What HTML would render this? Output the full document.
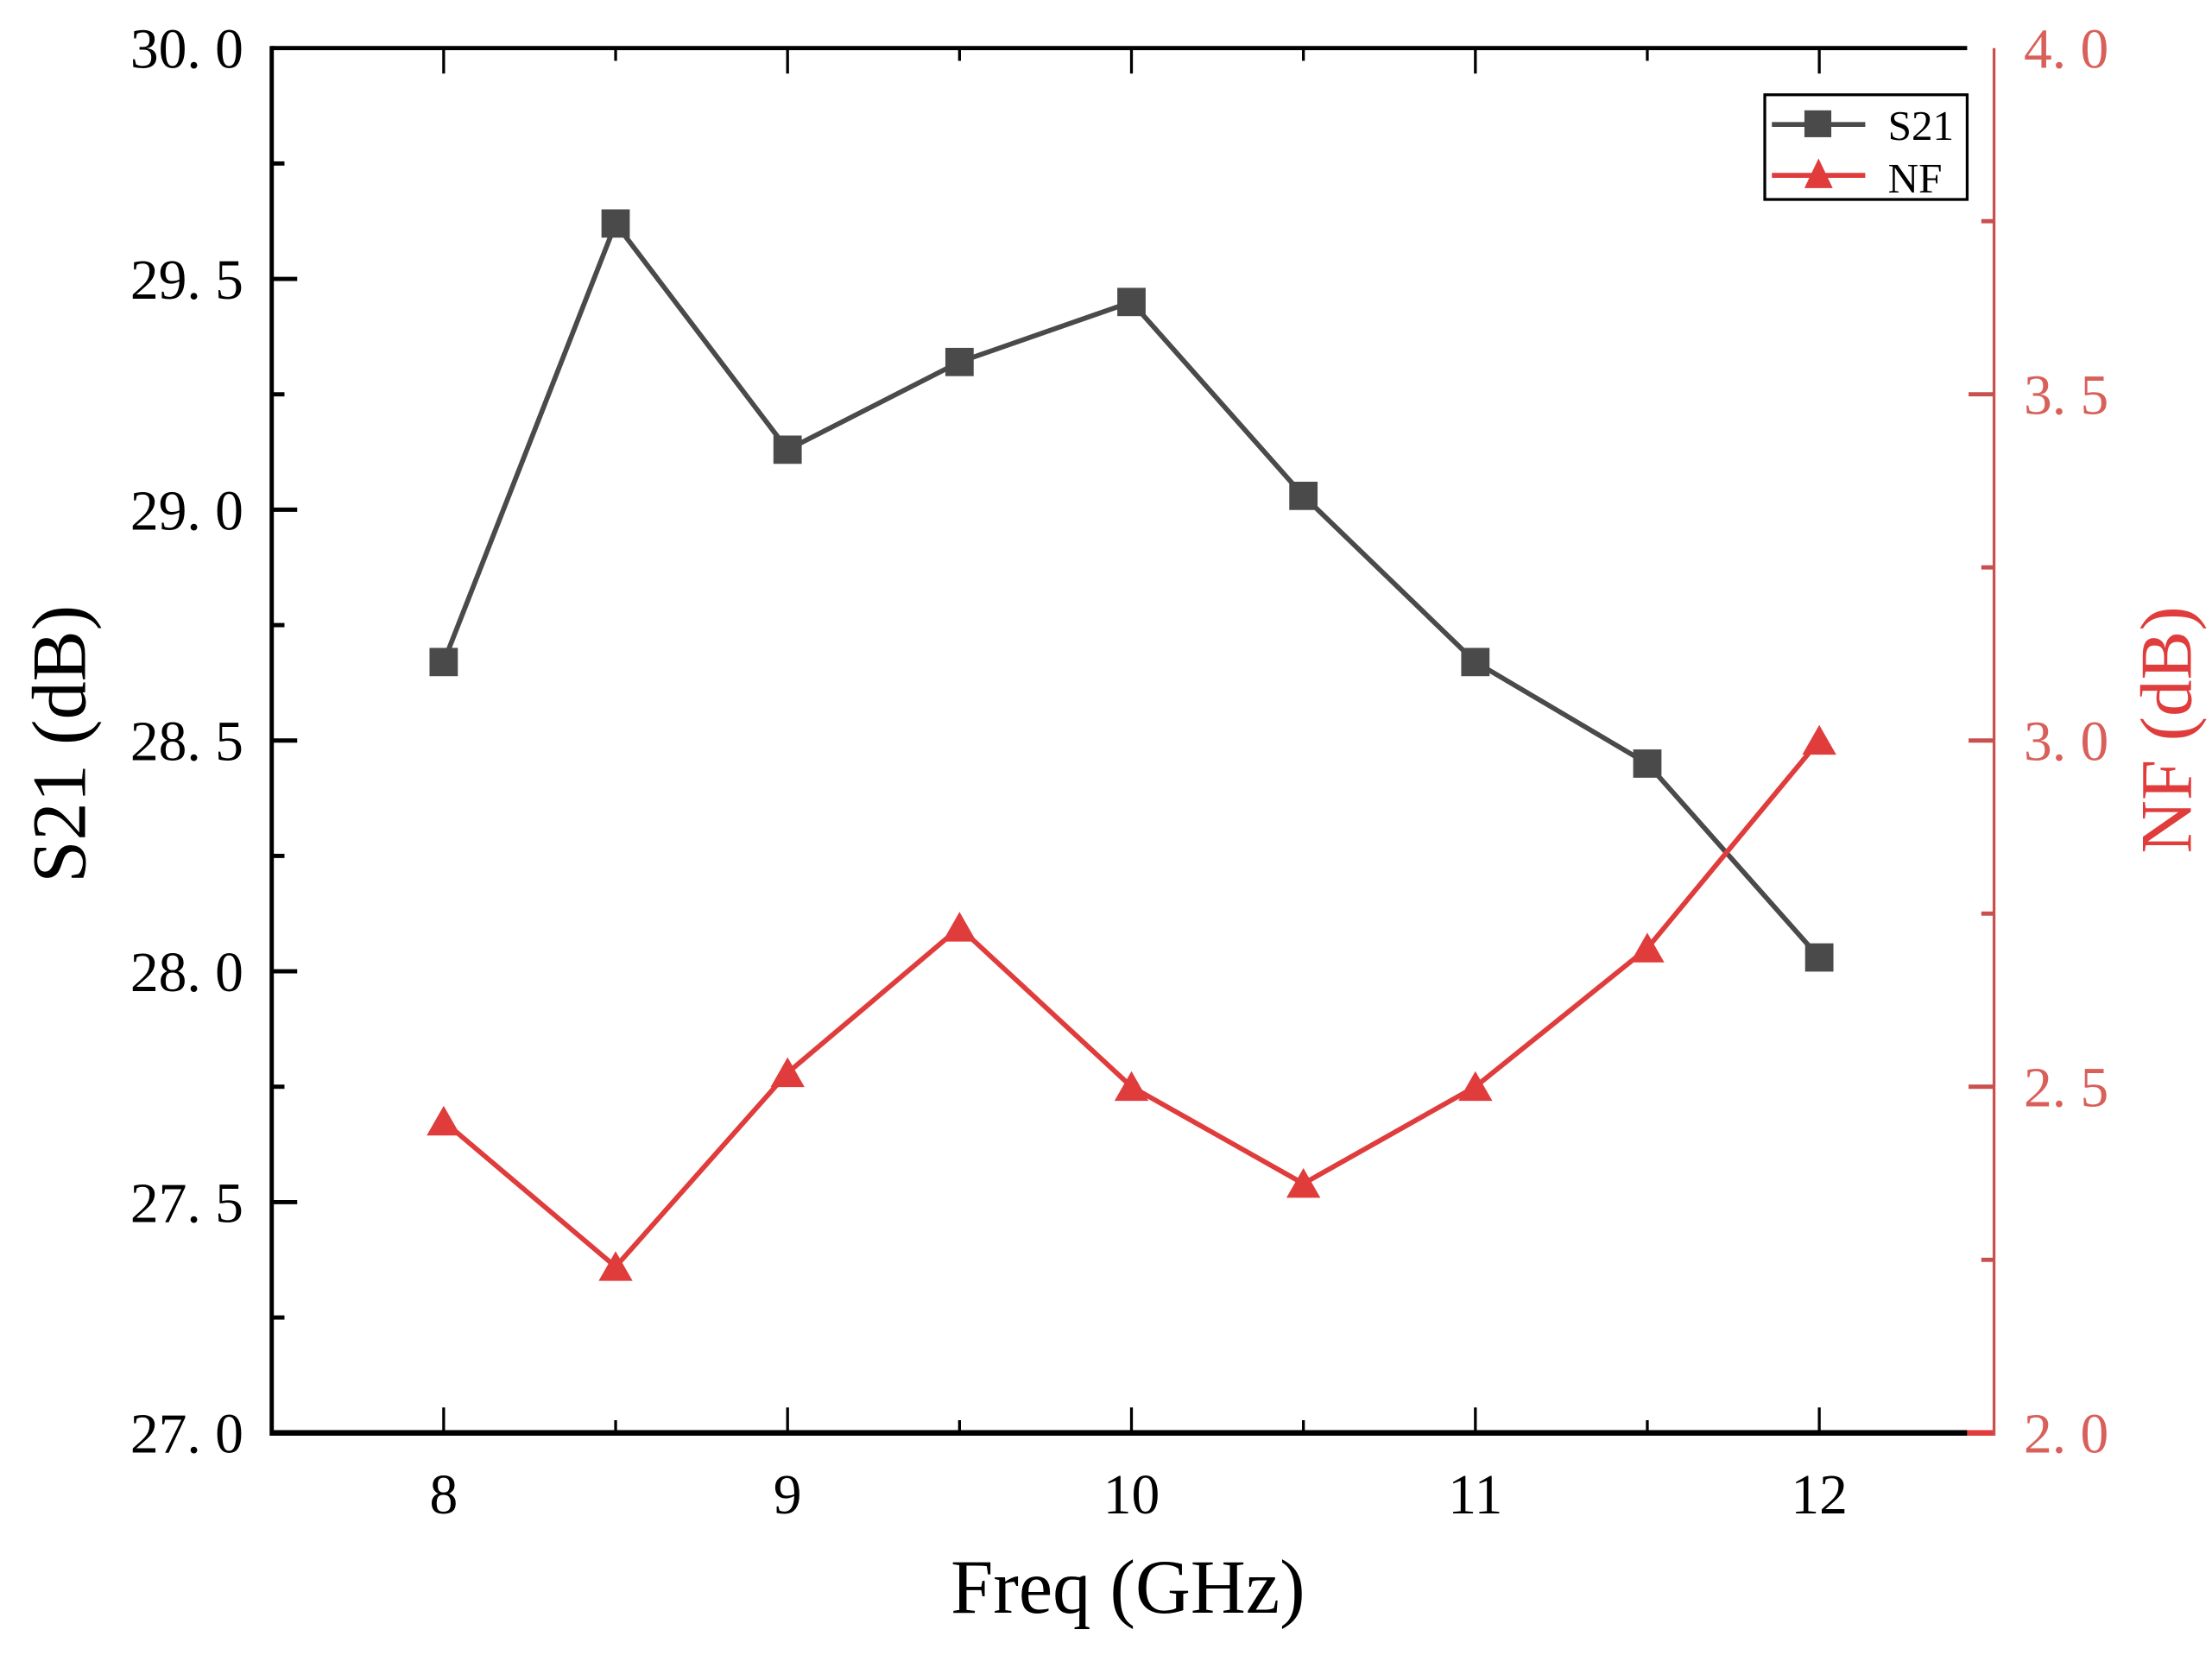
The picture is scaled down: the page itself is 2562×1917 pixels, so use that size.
<!DOCTYPE html>
<html><head><meta charset="utf-8"><style>
html,body{margin:0;padding:0;background:#fff;}
svg{display:block;}
text{font-family:"Liberation Serif","Noto Serif CJK SC",serif;}
</style></head><body>
<svg id="chart" width="2562" height="1917" viewBox="0 0 1563 1170" preserveAspectRatio="none" xmlns="http://www.w3.org/2000/svg">
<g id="axes"></g>
<g id="series"></g>
<g>
  <rect x="1247" y="67" width="143" height="74" fill="#fff" stroke="#000" stroke-width="2"/>
  <g>
    <line x1="1252" y1="88" x2="1318" y2="88" stroke="#4a4a4a" stroke-width="3.5"/>
    <rect x="1275" y="78" width="19" height="19" fill="#4a4a4a"/>
    <text x="1334" y="99" font-size="30" fill="#000">S21</text>
  </g>
  <g>
    <line x1="1252" y1="124" x2="1318" y2="124" stroke="#e03c3c" stroke-width="3.5"/>
    <polygon points="1285,112 1275,133 1295,133" fill="#e03c3c"/>
    <text x="1334" y="136" font-size="30" fill="#000">NF</text>
  </g>
</g>
<text x="797" y="1140" font-size="54" text-anchor="middle" fill="#000">Freq (GHz)</text>
<text transform="translate(60,526) rotate(-90)" font-size="54" text-anchor="middle" fill="#000">S21 (dB)</text>
<text transform="translate(1548,516) rotate(-90)" font-size="52" text-anchor="middle" fill="#e03c3c">NF (dB)</text>
</svg>
<script>
const freqs = [8, 8.5, 9, 9.5, 10, 10.5, 11, 11.5, 12];
const s21 = [28.67, 29.62, 29.13, 29.32, 29.45, 29.03, 28.67, 28.45, 28.03];
const nf = [2.45, 2.24, 2.52, 2.73, 2.50, 2.36, 2.50, 2.70, 3.00];
const xTicks = [8, 9, 10, 11, 12];
const leftTicks = [27.0, 27.5, 28.0, 28.5, 29.0, 29.5, 30.0];
const rightTicks = [2.0, 2.5, 3.0, 3.5, 4.0];

const NS = "http://www.w3.org/2000/svg";
const L = 192, R = 1390, RA = 1409, T = 34, B = 1013;
function xs(v){ return L + (v - 7.5) * 243; }
function yl(v){ return B - (v - 27) / 3 * (B - T); }
function yr(v){ return B - (v - 2) / 2 * (B - T); }
function mk(tag, attrs, parent){
  const e = document.createElementNS(NS, tag);
  for (const k in attrs) e.setAttribute(k, attrs[k]);
  parent.appendChild(e);
  return e;
}
const axes = document.getElementById('axes');
const series = document.getElementById('series');

let e = mk('line', {x1:L, y1:T, x2:R, y2:T, stroke:'#000', 'stroke-width':3}, axes);


e = mk('line', {x1:L, y1:T-1.5, x2:L, y2:B+2, stroke:'#000', 'stroke-width':3}, axes);


e = mk('line', {x1:L, y1:B, x2:R, y2:B, stroke:'#000', 'stroke-width':4}, axes);


e = mk('line', {x1:R, y1:B, x2:RA, y2:B, stroke:'#e03c3c', 'stroke-width':4}, axes);


e = mk('line', {x1:RA, y1:T, x2:RA, y2:B+2, stroke:'#c8504f', 'stroke-width':2}, axes);



for (let v = 8; v <= 12.01; v += 0.5) {
  const major = Math.abs(v - Math.round(v)) < 1e-6;
  const len = major ? 18 : 9;
  e = mk('line', {x1:xs(v), y1:B, x2:xs(v), y2:B-len, stroke:'#000', 'stroke-width':2}, axes);
  
  
  e = mk('line', {x1:xs(v), y1:T, x2:xs(v), y2:T+len, stroke:'#000', 'stroke-width':2}, axes);
  
  
}
xTicks.forEach(v => {
  const t = mk('text', {x:xs(v), y:1070, 'font-size':40, 'text-anchor':'middle', fill:'#000'}, axes);
  t.textContent = String(v);
  
  
});
for (let v = 27.25; v < 30; v += 0.25) {
  const major = Math.abs(v*2 - Math.round(v*2)) < 1e-6;
  e = mk('line', {x1:L, y1:yl(v), x2:L + (major ? 18 : 9), y2:yl(v), stroke:'#000', 'stroke-width':3}, axes);
  
  
}
leftTicks.forEach(v => {
  const t = mk('text', {x:172, y:yl(v)+14, 'font-size':40, 'text-anchor':'end', fill:'#000'}, axes);
  t.textContent = v.toFixed(1).replace('.', '. ');
  
  
});
for (let v = 2.25; v < 4; v += 0.25) {
  const major = Math.abs(v*2 - Math.round(v*2)) < 1e-6;
  e = mk('line', {x1:RA, y1:yr(v), x2:RA - (major ? 18 : 9), y2:yr(v), stroke:'#c8504f', 'stroke-width':3}, axes);
  
  
}
rightTicks.forEach(v => {
  const t = mk('text', {x:1430, y:yr(v)+14, 'font-size':40, 'text-anchor':'start', fill:'#d9605a'}, axes);
  t.textContent = v.toFixed(1).replace('.', '. ');
  
  
});

e = mk('polyline', {points: freqs.map((f,i)=>xs(f)+','+yl(s21[i])).join(' '), fill:'none', stroke:'#4a4a4a', 'stroke-width':3.5}, series);


freqs.forEach((f,i) => {
  const m = mk('rect', {x:xs(f)-10, y:yl(s21[i])-10, width:20, height:20, fill:'#4a4a4a'}, series);
  
  
});
e = mk('polyline', {points: freqs.map((f,i)=>xs(f)+','+yr(nf[i])).join(' '), fill:'none', stroke:'#e03c3c', 'stroke-width':3.5}, series);


freqs.forEach((f,i) => {
  const x = xs(f), y = yr(nf[i]);
  const m = mk('polygon', {points:`${x},${y-11} ${x-12},${y+10} ${x+12},${y+10}`, fill:'#e03c3c'}, series);
  
  
});
</script>
</body></html>
